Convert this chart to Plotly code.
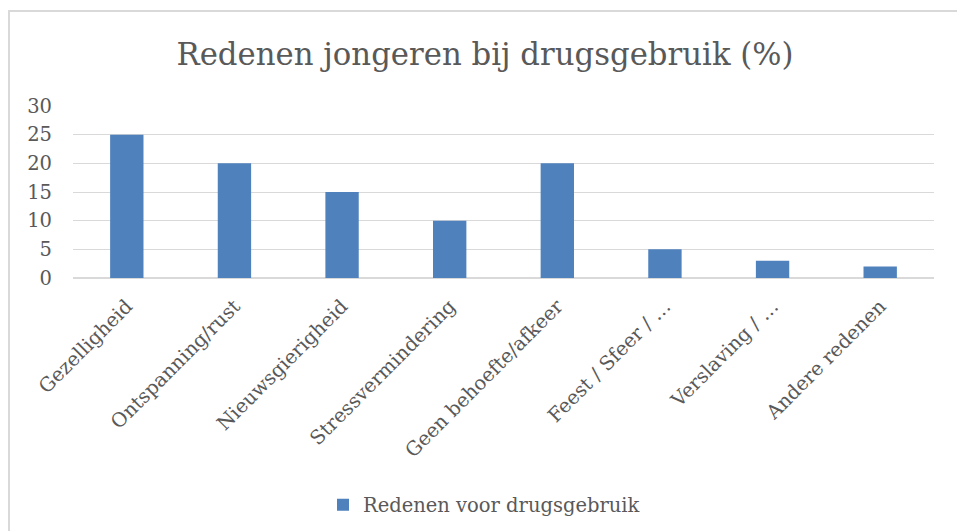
import plotly.graph_objects as go

categories = ["Gezelligheid", "Ontspanning/rust", "Nieuwsgierigheid", "Stressvermindering",
              "Geen behoefte/afkeer", "Feest / Sfeer / …", "Verslaving / …", "Andere redenen"]
values = [25, 20, 15, 10, 20, 5, 3, 2]
series_name = "Redenen voor drugsgebruik"
title_text = "Redenen jongeren bij drugsgebruik (%)"
y_ticks = [0, 5, 10, 15, 20, 25, 30]

W, H = 957, 531
L, R, T, B = 73, 23, 106, 253
pw, ph = W - L - R, H - T - B

def px_x(x):
    return (x - L) / pw

def px_y(y):
    return (H - B - y) / ph

FONT = "DejaVu Serif"
GREY = "#595959"
TS = 19.5

fig = go.Figure(go.Bar(
    x=categories, y=values, name=series_name,
    marker=dict(color="#4F81BD", line=dict(width=0)),
    showlegend=True,
))

fig.update_layout(
    width=W, height=H,
    margin=dict(l=L, r=R, t=T, b=B, autoexpand=False),
    paper_bgcolor="white", plot_bgcolor="white",
    bargap=0.69,
    title=dict(text=title_text, x=485 / W, xref="container", xanchor="center",
               y=1 - 54 / H, yref="container", yanchor="middle",
               font=dict(family=FONT, size=30.75, color=GREY)),
    font=dict(family=FONT, color=GREY, size=TS),
    xaxis=dict(tickangle=-45, showgrid=False, showline=False, ticks="",
               ticklabelstandoff=12, automargin=False,
               tickfont=dict(family=FONT, size=TS, color=GREY)),
    yaxis=dict(range=[0, 30], tickvals=y_ticks, showgrid=True, gridcolor="#D9D9D9",
               gridwidth=1, zeroline=True, zerolinecolor="#D9D9D9", showline=False,
               automargin=False,
               ticks="", ticklabelstandoff=20, tickfont=dict(family=FONT, size=TS, color=GREY)),
    legend=dict(orientation="h", x=px_x(484), xanchor="center", y=px_y(505), yanchor="middle",
                font=dict(family=FONT, size=TS, color=GREY), itemwidth=30),
    shapes=[dict(type="rect", xref="paper", yref="paper",
                 x0=px_x(9), x1=px_x(965), y0=px_y(540), y1=px_y(11),
                 line=dict(color="#D9D9D9", width=2), fillcolor="rgba(0,0,0,0)", layer="below")],
)

fig.write_html("out.html", config={"displayModeBar": False},
               post_script="document.body.style.margin='0';document.body.style.overflow='hidden';")
